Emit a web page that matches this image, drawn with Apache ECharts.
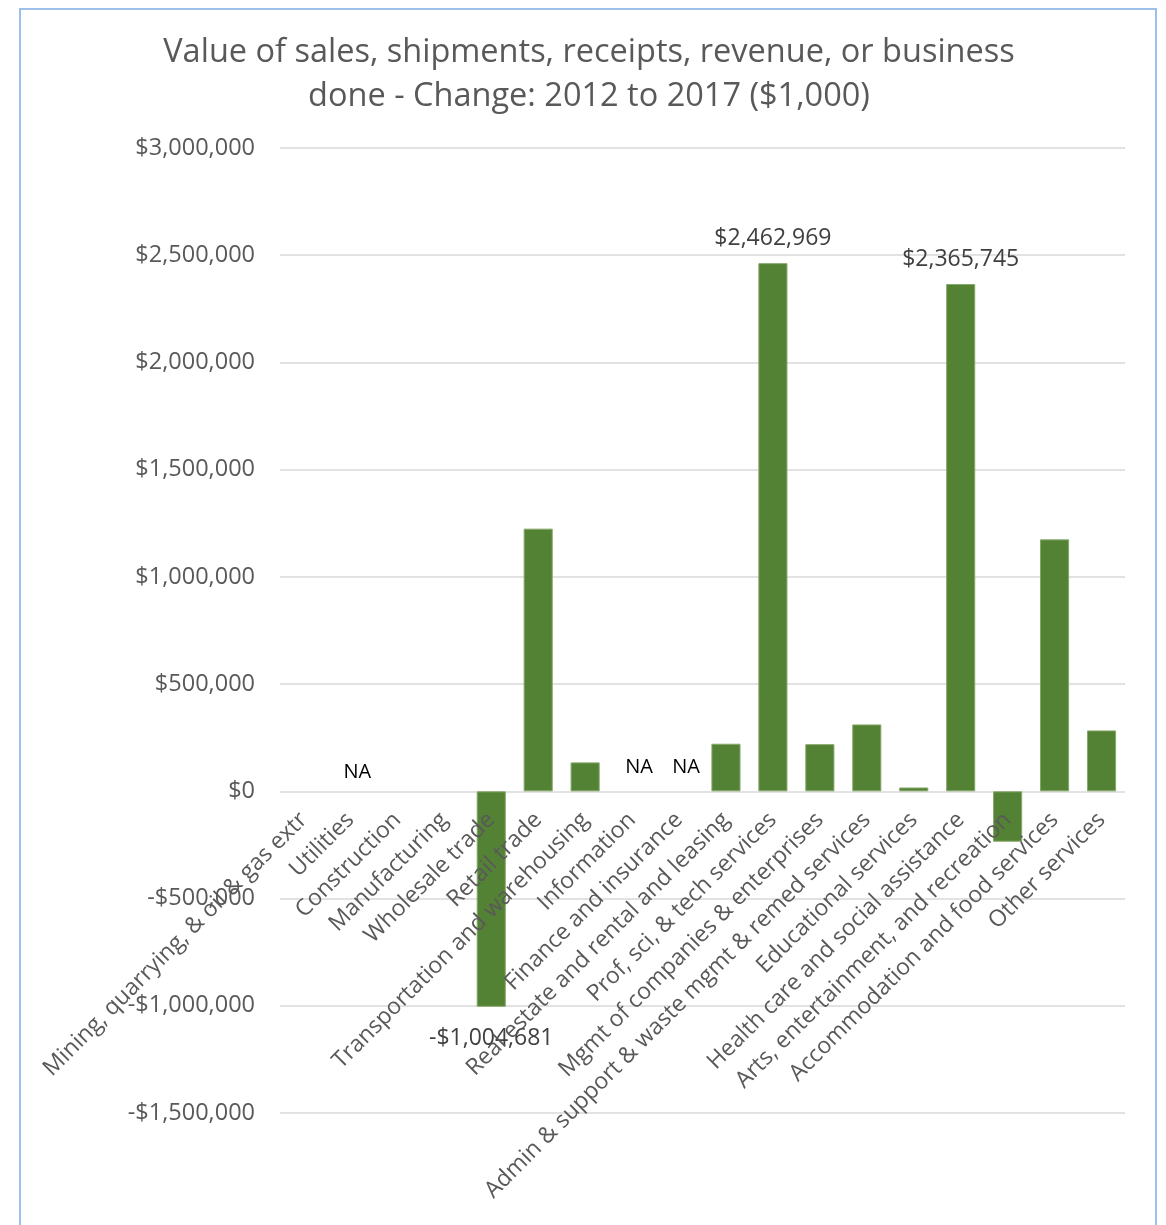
<!DOCTYPE html>
<html>
<head>
<meta charset="utf-8">
<script src="https://cdn.jsdelivr.net/npm/echarts@6/dist/echarts.min.js"></script>
<style>
html,body{margin:0;padding:0;background:#fff;overflow:hidden;}
#frame{position:absolute;left:19px;top:8px;width:1138px;height:1300px;border:2px solid #9cc0ea;box-sizing:border-box;}
#chart{position:absolute;left:0;top:0;width:1166px;height:1225px;}
</style>
</head>
<body>
<div id="frame"></div>
<div id="chart"></div>
<script>
const categories = [
  "Mining, quarrying, & oil & gas extr",
  "Utilities",
  "Construction",
  "Manufacturing",
  "Wholesale trade",
  "Retail trade",
  "Transportation and warehousing",
  "Information",
  "Finance and insurance",
  "Real estate and rental and leasing",
  "Prof, sci, & tech services",
  "Mgmt of companies & enterprises",
  "Admin & support & waste mgmt & remed services",
  "Educational services",
  "Health care and social assistance",
  "Arts, entertainment, and recreation",
  "Accommodation and food services",
  "Other services"
];
const values = [null, 0, null, null, -1004681, 1225000, 135000, 0, 0, 222000, 2462969, 220000, 312000, 18000, 2365745, -235000, 1175000, 284000];
const valueLabels = ["", "NA", "", "", "-$1,004,681", "", "", "NA", "NA", "", "$2,462,969", "", "", "", "$2,365,745", "", "", ""];
const yTicks = { min: -1500000, max: 3000000, interval: 500000 };

function money(v) {
  const s = Math.abs(v).toLocaleString('en-US');
  return (v < 0 ? '-$' : '$') + s;
}

const data = values.map((v, i) => {
  const lab = valueLabels[i];
  const item = { value: v };
  if (lab === 'NA') {
    item.itemStyle = { borderWidth: 0 };
    item.label = { show: true, position: 'top', distance: i === 1 ? 9 : 14, offset: [7, 0], formatter: lab, color: '#000', fontSize: 20 };
  } else if (lab) {
    item.label = { show: true, position: v < 0 ? 'bottom' : 'top', distance: v < 0 ? 20 : 13, formatter: lab, color: '#404040', fontSize: 23 };
  }
  return item;
});

const gridTop = 148, gridBottom = 112, chartH = 1225;
const plotH = chartH - gridTop - gridBottom;
// move the category axis up to the zero line of the value axis
const zeroOffset = -plotH * (0 - yTicks.min) / (yTicks.max - yTicks.min);

const chart = echarts.init(document.getElementById('chart'));
chart.setOption({
  animation: false,
  textStyle: { fontFamily: 'Open Sans' },
  title: {
    text: 'Value of sales, shipments, receipts, revenue, or business\ndone - Change: 2012 to 2017 ($1,000)',
    left: 584, top: 26, textAlign: 'center',
    textStyle: { fontFamily: 'Open Sans', fontSize: 32.5, fontWeight: 'normal', color: '#595959', lineHeight: 44 }
  },
  grid: { left: 280, right: 41, top: gridTop, bottom: gridBottom, containLabel: false, outerBoundsMode: 'none' },
  xAxis: {
    type: 'category',
    data: categories,
    position: 'bottom',
    offset: zeroOffset,
    z: 5,
    axisLine: { show: false, onZero: false },
    axisTick: { show: false },
    axisLabel: { interval: 0, rotate: 45, color: '#595959', fontSize: 23, margin: 25 },
    splitLine: { show: false }
  },
  yAxis: {
    type: 'value',
    min: yTicks.min, max: yTicks.max, interval: yTicks.interval,
    axisLine: { show: false },
    axisTick: { show: false },
    axisLabel: { color: '#595959', fontSize: 23.5, margin: 25, formatter: money },
    splitLine: { lineStyle: { color: '#d9d9d9', width: 1.5 } }
  },
  series: [{
    type: 'bar',
    data: data,
    barCategoryGap: '38%',
    itemStyle: { color: '#548235', borderColor: '#86a86a', borderWidth: 1 },
    label: { show: false }
  }]
});
</script>
</body>
</html>
